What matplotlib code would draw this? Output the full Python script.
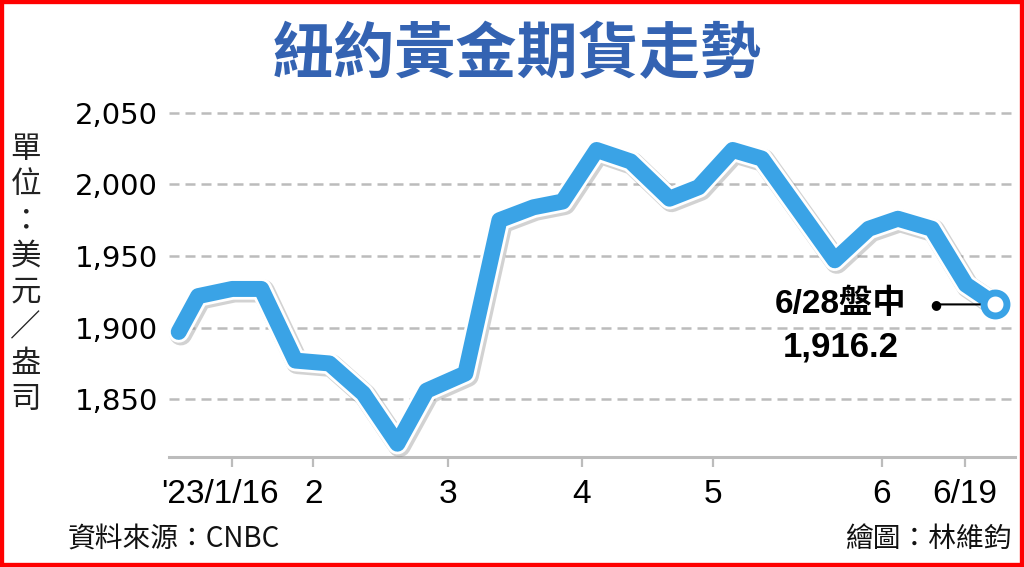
import matplotlib
matplotlib.use("Agg")
import matplotlib.pyplot as plt
import matplotlib.patheffects as pe
from matplotlib.patches import Rectangle
from matplotlib.transforms import ScaledTranslation

# NY gold futures, USD/oz; x = days counted from 2023-01-16
x_days = [-11, -7, 0, 6, 13, 20, 27, 34, 40, 48, 55, 62, 68, 75, 82, 90, 96,
          103, 109, 124, 131, 137, 144, 151, 157]
prices = [1897, 1922, 1927, 1927, 1877, 1875, 1854, 1819, 1856, 1868, 1975,
          1984, 1988, 2024, 2016, 1990, 1998, 2024, 2018, 1947, 1969, 1976,
          1969, 1930, 1916.2]

tick_pos = [0, 16.7, 44.4, 72.0, 99.0, 133.7, 150.8]
tick_labels = ["'23/1/16", "2", "3", "4", "5", "6", "6/19"]
y_ticks = [1850, 1900, 1950, 2000, 2050]

blue = "#3aa3e6"
grey = "#bcbcbc"
cjk = ["Noto Sans CJK TC", "DejaVu Sans"]
narrow = ["Liberation Sans Narrow", "Liberation Sans", "DejaVu Sans"]

fig = plt.figure(figsize=(10.24, 5.67), dpi=100)
ax = fig.add_axes([169 / 1024, 1 - 457 / 567, (1015 - 169) / 1024, (457 - 111) / 567])

ax.set_xlim(-13, 161.1)
ax.set_ylim(1809.7, 2051.2)

for s in ["top", "right", "left"]:
    ax.spines[s].set_visible(False)
ax.spines["bottom"].set_color(grey)
ax.spines["bottom"].set_linewidth(2.2)

ax.set_yticks(y_ticks)
ax.set_yticklabels([f"{v:,}" for v in y_ticks])
ax.tick_params(axis="y", length=0, pad=8, labelsize=21)
ax.yaxis.grid(True, color=grey, linewidth=1.8, linestyle=(0, (4, 2.4)))
ax.set_axisbelow(True)

ax.set_xticks(tick_pos)
ax.set_xticklabels(tick_labels)
ax.tick_params(axis="x", direction="out", length=7, width=1.6, color=grey,
               pad=9, labelsize=24)
for lab in ax.get_xticklabels():
    lab.set_family(narrow)
first = ax.get_xticklabels()[0]
first.set_transform(first.get_transform()
                    + ScaledTranslation(-12 / 100, 0, fig.dpi_scale_trans))

lw = 11.5
ax.plot(x_days, prices, color=blue, linewidth=lw, solid_joinstyle="round",
        solid_capstyle="round", clip_on=False, zorder=3,
        path_effects=[
            pe.SimpleLineShadow(offset=(1.5, -1.5), shadow_color="#808080",
                                alpha=0.35, linewidth=lw + 5),
            pe.Stroke(linewidth=lw + 4, foreground="white"),
            pe.Normal()])

# end point marker
ax.plot(x_days[-1], prices[-1], "o", markersize=16.5, markerfacecolor="white",
        markeredgecolor=blue, markeredgewidth=5, clip_on=False, zorder=5)

# callout for the last value
ax.annotate("", xy=(x_days[-1], prices[-1]), xytext=(-43, 0),
            textcoords="offset points",
            arrowprops=dict(arrowstyle="-", color="black", lw=1.5,
                            shrinkA=0, shrinkB=9), zorder=4)
ax.annotate("\u25CF", xy=(x_days[-1], prices[-1]), xytext=(-43, 0),
            textcoords="offset points", ha="center", va="center",
            fontsize=9, color="black")
ax.annotate("6/28盤中", xy=(x_days[-1], prices[-1]), xytext=(-111, 0),
            textcoords="offset points", ha="center", va="center",
            fontsize=24, fontweight="bold",
            family=["Liberation Sans", "Noto Sans CJK TC"])
ax.annotate("1,916.2", xy=(x_days[-1], prices[-1]), xytext=(-111, -31),
            textcoords="offset points", ha="center", va="center",
            fontsize=25, fontweight="bold", family=["Liberation Sans"])

# title, unit, footers
fig.text(0.505, 0.903, "紐約黃金期貨走勢", ha="center", va="center",
         fontsize=44, fontweight="bold", color="#3463b2", family=cjk)
fig.text(0.025, 0.516, "\n".join("單位：美元／盎司"), ha="center", va="center",
         fontsize=22, linespacing=1.2, color="#222222", family=cjk)
fig.text(68 / 1024, 0.049, "資料來源：CNBC", ha="left", va="center",
         fontsize=20, color="#111111", family=cjk)
fig.text(1012 / 1024, 0.049, "繪圖：林維鈞", ha="right", va="center",
         fontsize=20, color="#111111", family=cjk)

fig.patches.append(Rectangle((0, 0), 1, 1, transform=fig.transFigure,
                             fill=False, edgecolor="#ff0000", linewidth=6))

fig.savefig("out.png", dpi=100)
